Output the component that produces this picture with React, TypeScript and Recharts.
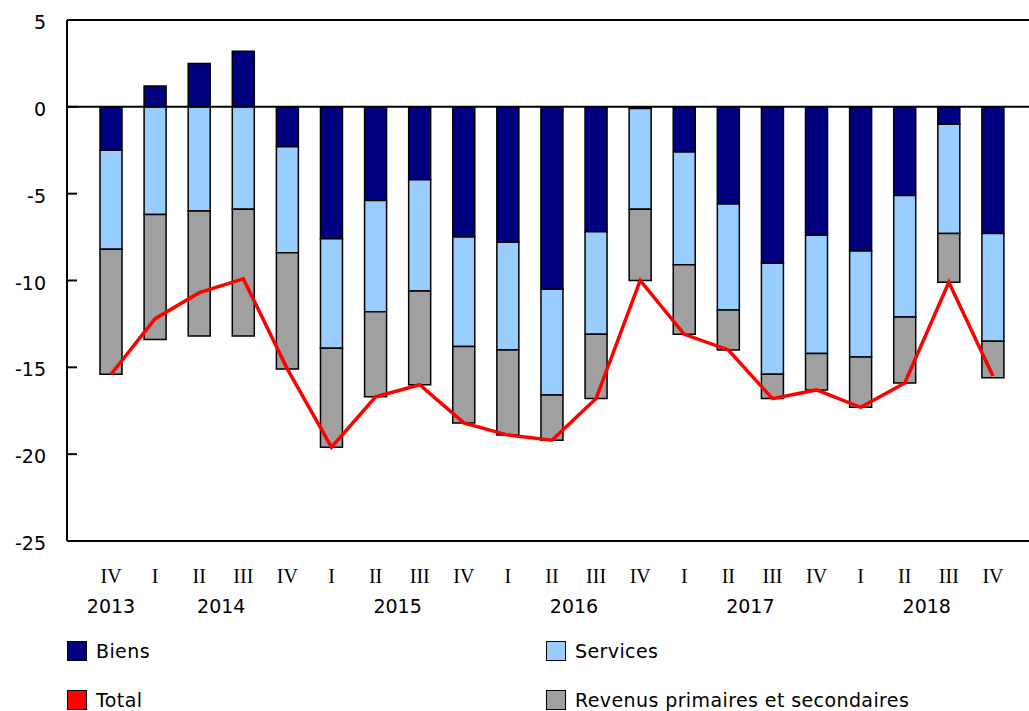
import { ComposedChart, Bar, Line, XAxis, YAxis, ReferenceLine } from 'recharts'

const QUARTERS = ['IV', 'I', 'II', 'III', 'IV', 'I', 'II', 'III', 'IV', 'I', 'II', 'III', 'IV', 'I', 'II', 'III', 'IV', 'I', 'II', 'III', 'IV']
const YEARS = ['2013', '2014', '2014', '2014', '2014', '2015', '2015', '2015', '2015', '2016', '2016', '2016', '2016', '2017', '2017', '2017', '2017', '2018', '2018', '2018', '2018']

const BIENS = [-2.5, 1.2, 2.5, 3.2, -2.3, -7.6, -5.4, -4.2, -7.5, -7.8, -10.5, -7.2, -0.1, -2.6, -5.6, -9.0, -7.4, -8.3, -5.1, -1.0, -7.3]
const SERVICES = [-5.7, -6.2, -6.0, -5.9, -6.1, -6.3, -6.4, -6.4, -6.3, -6.2, -6.1, -5.9, -5.8, -6.5, -6.1, -6.4, -6.8, -6.1, -7.0, -6.3, -6.2]
const REVENUS = [-7.2, -7.2, -7.2, -7.3, -6.7, -5.7, -4.9, -5.4, -4.4, -4.9, -2.6, -3.7, -4.1, -4.0, -2.3, -1.4, -2.1, -2.9, -3.8, -2.8, -2.1]
const TOTAL = [-15.4, -12.2, -10.7, -9.9, -15.1, -19.6, -16.7, -16.0, -18.2, -18.9, -19.2, -16.8, -10.0, -13.1, -14.0, -16.8, -16.3, -17.3, -15.9, -10.1, -15.5]

const Y_TICKS = [5, 0, -5, -10, -15, -20, -25]

const COLORS = {
  biens: '#000080',
  services: '#99ccff',
  revenus: '#a0a0a0',
  total: '#ff0000',
}

const SANS = '"DejaVu Sans", Verdana, sans-serif'
const SERIF = '"Liberation Serif", "Times New Roman", serif'

const chartData = QUARTERS.map((q, i) => ({
  period: `${q} ${YEARS[i]}`,
  biens: BIENS[i],
  services: SERVICES[i],
  revenus: REVENUS[i],
  total: TOTAL[i],
}))

function QuarterTick(props: any) {
  const { x, y, payload } = props
  const i = payload.index
  const q = QUARTERS[i]
  // year sits under the first quarter shown, then between II and III
  const showYear = i === 0 || q === 'II'
  const yearX = i === 0 ? x : x + 22
  return (
    <g>
      <text x={x} y={y + 40} textAnchor="middle" fontFamily={SERIF} fontSize={20} fill="#000">
        {q}
      </text>
      {showYear && (
        <text x={yearX} y={y + 70} textAnchor="middle" fontFamily={SANS} fontSize={19} fill="#000">
          {YEARS[i]}
        </text>
      )}
    </g>
  )
}

function ValueTick(props: any) {
  const { x, y, payload } = props
  return (
    <g>
      <line x1={x + 21} x2={x + 31} y1={y} y2={y} stroke="#000" strokeWidth={2} />
      <text x={x} y={y + 9} textAnchor="end" fontFamily={SANS} fontSize={19} fill="#000">
        {payload.value}
      </text>
    </g>
  )
}

const LEGEND = [
  { label: 'Biens', color: COLORS.biens, left: 67, top: 640 },
  { label: 'Services', color: COLORS.services, left: 546, top: 640 },
  { label: 'Total', color: COLORS.total, left: 67, top: 689 },
  { label: 'Revenus primaires et secondaires', color: COLORS.revenus, left: 546, top: 689 },
]

export default function App() {
  return (
    <div style={{ position: 'absolute', left: 0, top: 0, width: 1029, height: 711, background: '#fff', overflow: 'hidden' }}>
      <ComposedChart
        width={1029}
        height={711}
        data={chartData}
        stackOffset="sign"
        margin={{ top: 20, right: 0, left: 0, bottom: 70 }}
      >
        <XAxis
          dataKey="period"
          height={100}
          padding={{ left: 22, right: 14 }}
          axisLine={{ stroke: '#000', strokeWidth: 2 }}
          tickLine={false}
          tickSize={0}
          interval={0}
          tick={<QuarterTick />}
        />
        <YAxis
          width={67}
          domain={[-25, 5]}
          ticks={Y_TICKS}
          interval={0}
          axisLine={{ stroke: '#000', strokeWidth: 2 }}
          tickLine={false}
          tickSize={0}
          tickMargin={21}
          tick={<ValueTick />}
        />
        <ReferenceLine y={5} stroke="#000" strokeWidth={2} />
        <Bar dataKey="biens" stackId="a" fill={COLORS.biens} stroke="#000" strokeWidth={1.5} barSize={22} isAnimationActive={false} />
        <Bar dataKey="services" stackId="a" fill={COLORS.services} stroke="#000" strokeWidth={1.5} barSize={22} isAnimationActive={false} />
        <Bar dataKey="revenus" stackId="a" fill={COLORS.revenus} stroke="#000" strokeWidth={1.5} barSize={22} isAnimationActive={false} />
        <ReferenceLine y={0} stroke="#000" strokeWidth={2} />
        <Line
          dataKey="total"
          type="linear"
          stroke={COLORS.total}
          strokeWidth={3.5}
          dot={false}
          activeDot={false}
          isAnimationActive={false}
        />
      </ComposedChart>
      {LEGEND.map((item) => (
        <div
          key={item.label}
          style={{ position: 'absolute', left: item.left, top: item.top, display: 'flex', alignItems: 'center', fontFamily: SANS, fontSize: 19, letterSpacing: 0.4, color: '#000' }}
        >
          <span style={{ display: 'inline-block', width: 18, height: 18, background: item.color, border: '1.5px solid #000', marginRight: 9 }} />
          <span>{item.label}</span>
        </div>
      ))}
    </div>
  )
}
